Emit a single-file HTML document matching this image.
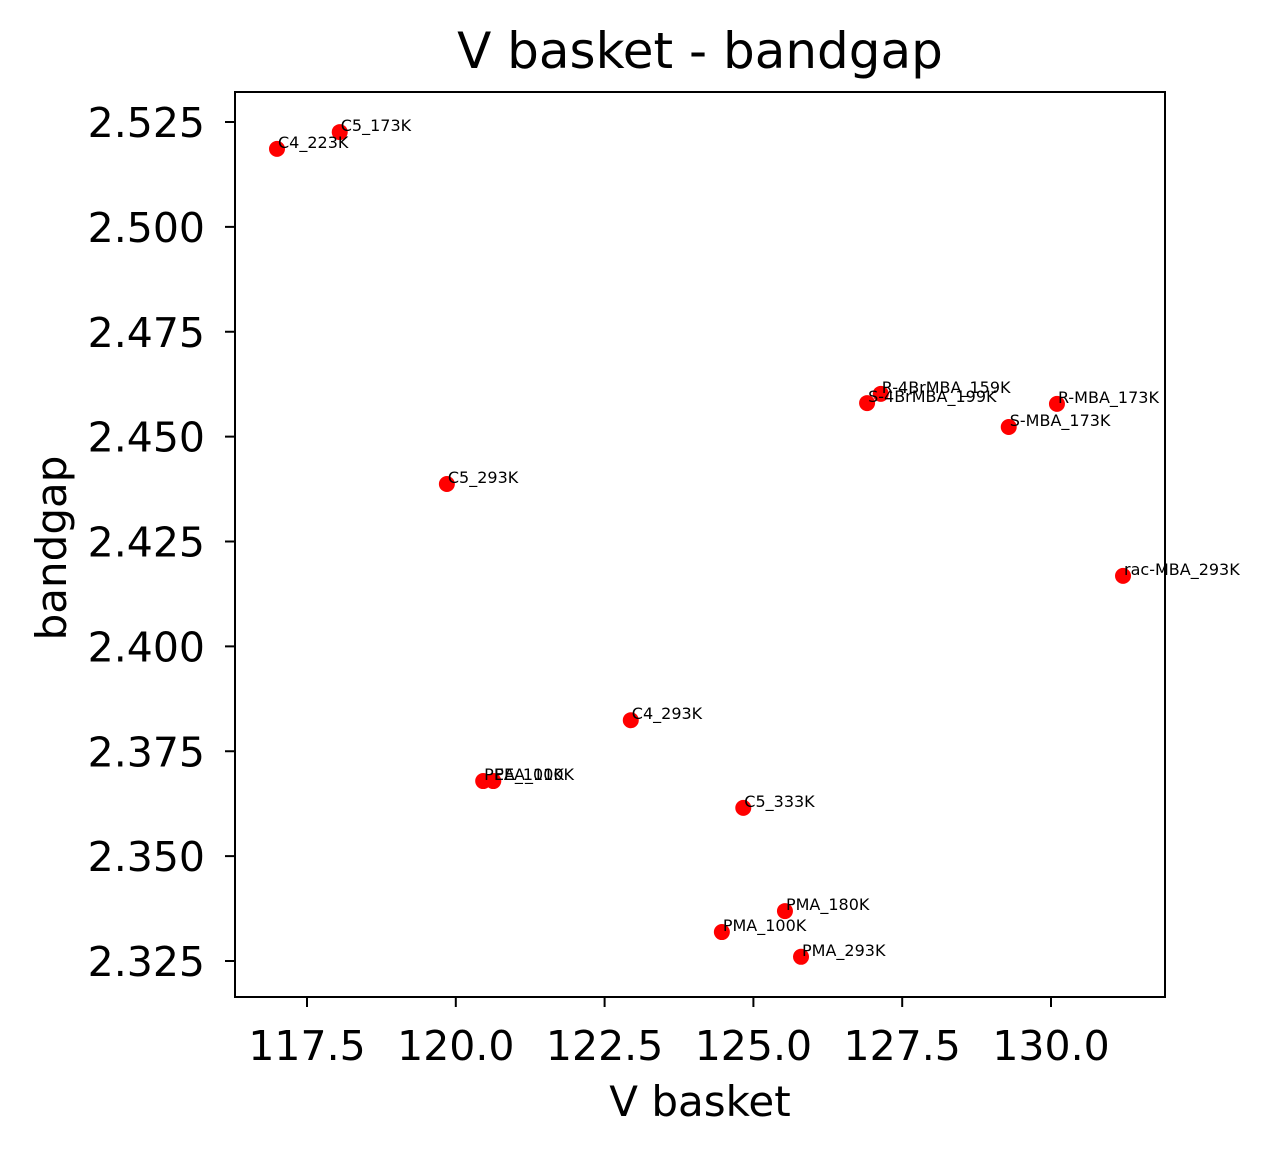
<!DOCTYPE html>
<html><head><meta charset="utf-8"><style>
body{margin:0;background:#fff;}
svg{display:block;font-family:"DejaVu Sans","Liberation Sans",sans-serif;}
</style></head><body>
<svg id="chart" width="1273" height="1154">
<text x="700" y="68" font-size="50" text-anchor="middle">V basket - bandgap</text>
<text x="700" y="1116" font-size="42" text-anchor="middle">V basket</text>
<text x="66" y="548" font-size="42" text-anchor="middle" transform="rotate(-90 66 548)">bandgap</text>
<g id="ticks"></g>
<g id="marks"></g>
<rect x="235" y="92" width="930" height="905" fill="none" stroke="#000" stroke-width="2"/>
</svg>
<script>
const labels=["C4_223K","C5_173K","C5_293K","R-4BrMBA_159K","S-4BrMBA_199K","R-MBA_173K","S-MBA_173K","rac-MBA_293K","C4_293K","PEA_100K","PEA_110K","C5_333K","PMA_180K","PMA_100K","PMA_293K"];
const vbasket=[116.996,118.05,119.85,127.14,126.91,130.10,129.29,131.21,122.94,120.46,120.63,124.83,125.53,124.47,125.80];
const bandgap=[2.5186,2.5226,2.4387,2.4602,2.4580,2.4578,2.4523,2.4168,2.3824,2.3679,2.3679,2.3615,2.3369,2.3319,2.3260];
const xTicks=[117.5,120.0,122.5,125.0,127.5,130.0];
const yTicks=[2.325,2.350,2.375,2.400,2.425,2.450,2.475,2.500,2.525];
const ns="http://www.w3.org/2000/svg";
function sx(v){return 307+(v-117.5)*59.52;}
function sy(v){return 122+(2.525-v)*4195;}
const tg=document.getElementById('ticks'), mg=document.getElementById('marks');
function mk(tag,attrs,parent){const e=document.createElementNS(ns,tag);for(const k in attrs)e.setAttribute(k,attrs[k]);parent.appendChild(e);return e;}
xTicks.forEach(t=>{
  const x=sx(t);
  const l=mk('line',{x1:x,x2:x,y1:997,y2:1007,stroke:'#000','stroke-width':2},tg);
  
  
  const tx=mk('text',{x:x,y:1060,'font-size':41,'text-anchor':'middle'},tg);
  tx.textContent=t.toFixed(1);
  
  
});
yTicks.forEach(t=>{
  const y=sy(t);
  const l=mk('line',{x1:225,x2:235,y1:y,y2:y,stroke:'#000','stroke-width':2},tg);
  
  
  const tx=mk('text',{x:205,y:y+15,'font-size':41,'text-anchor':'end'},tg);
  tx.textContent=t.toFixed(3);
  
  
});
labels.forEach((lb,i)=>{
  const x=sx(vbasket[i]),y=sy(bandgap[i]);
  const c=mk('circle',{cx:x,cy:y,r:8,fill:'#ff0000'},mg);
  
  
});
labels.forEach((lb,i)=>{
  const x=sx(vbasket[i]),y=sy(bandgap[i]);
  const t=mk('text',{x:x+1,y:y-1,'font-size':16},mg);
  t.textContent=lb;
  
  
});
</script>
</body></html>
